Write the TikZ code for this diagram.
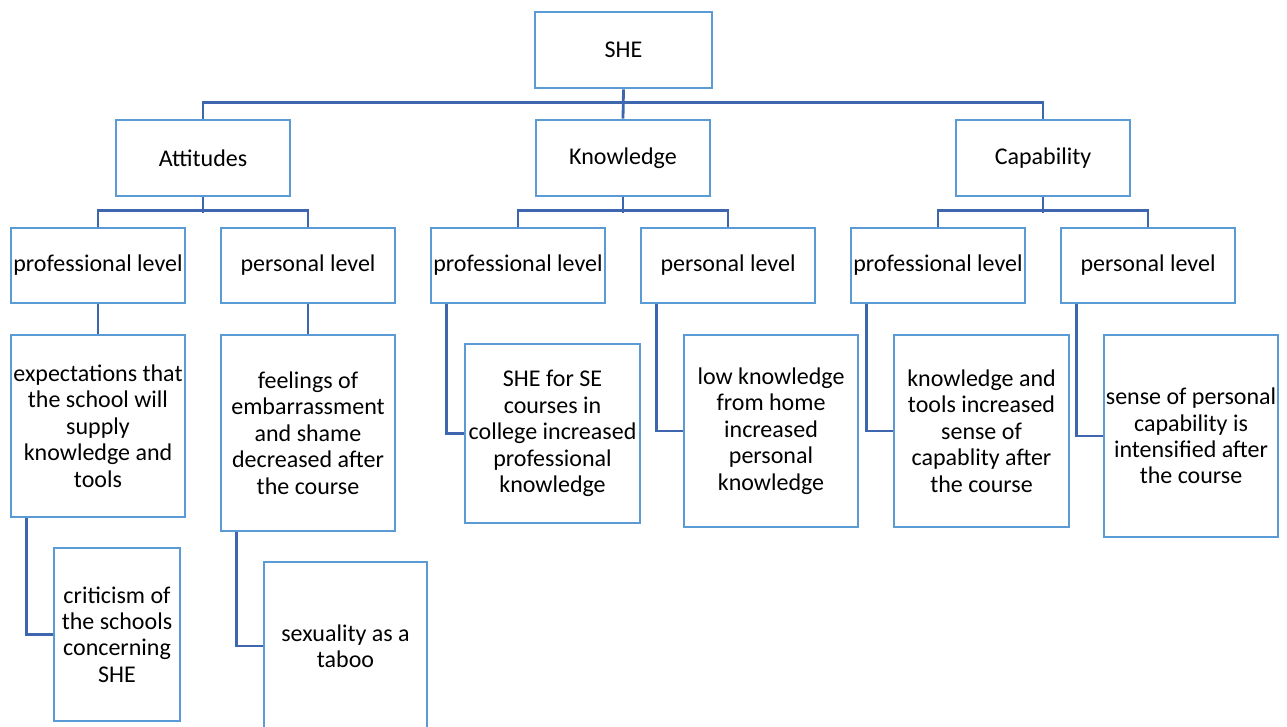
\documentclass[tikz,border=0pt]{standalone}
\usepackage{fontspec}
\setmainfont{Carlito}
\definecolor{boxblue}{HTML}{5B9BD5}
\definecolor{linkblue}{HTML}{3D66AE}
% box by its corners: name, x1, y1, x2, y2, text
\newcommand\boxnode[6]{%
  \node[box, minimum width={(#4-#2)*1pt}, minimum height={(#5-#3)*1pt}]
    (#1) at ({(#2+#4)/2},{(#3+#5)/2}) {#6};}
\begin{document}
\begin{tikzpicture}[x=1pt,y=-1pt,
  box/.style={draw=boxblue, line width=2.8pt, fill=white, align=center,
    inner sep=0pt, text=black, font=\fontsize{24}{26.4}\selectfont},
  oneline/.style={text height=17pt, text depth=5pt},
  link/.style={draw=linkblue, line width=2.8pt}]
\useasboundingbox (0,0) rectangle (1287,726);

% root and first level
\boxnode{she}{535}{12}{712}{88}{SHE}
\boxnode{att}{116}{120}{290}{196}{Attitudes}
\boxnode{know}{536}{120}{710}{196}{Knowledge}
\boxnode{cap}{956}{120}{1130}{196}{Capability}

% second level
\boxnode{attpro}{11}{228}{185}{303}{professional level}
\boxnode{attper}{221}{228}{395}{303}{personal level}
\boxnode{knpro}{431}{228}{605}{303}{professional level}
\boxnode{knper}{641}{228}{815}{303}{personal level}
\boxnode{cappro}{851}{228}{1025}{303}{professional level}
\boxnode{capper}{1061}{228}{1235}{303}{personal level}

% third level
\boxnode{expect}{11}{335}{185}{517}{expectations that\\the school will\\supply\\knowledge and\\tools}
\boxnode{feel}{221}{335}{395}{531}{feelings of\\embarrassment\\and shame\\decreased after\\the course}
\boxnode{knshe}{465}{344}{640}{523}{SHE for SE\\courses in\\college increased\\professional\\knowledge}
\boxnode{knlow}{684}{335}{858}{527}{low knowledge\\from home\\increased\\personal\\knowledge}
\boxnode{captool}{894}{335}{1069}{527}{knowledge and\\tools increased\\sense of\\capablity after\\the course}
\boxnode{capsense}{1104}{335}{1278}{537}{sense of personal\\capability is\\intensified after\\the course}

% fourth level
\boxnode{crit}{54}{548}{180}{721}{criticism of\\the schools\\concerning\\SHE}
\boxnode{taboo}{264}{562}{427}{730}{sexuality as a\\taboo}

% root to first level
\draw[link] (she.south) -- (know.north);
\draw[link] (att.north) -- ++(0,-16) -| (cap.north);

% first to second level
\foreach \p/\a/\b in {att/attpro/attper, know/knpro/knper, cap/cappro/capper}{
  \draw[link] (\p.south) -- ++(0,16);
  \draw[link] (\a.north) -- ++(0,-16) -| (\b.north);
}

% second to third level
\draw[link] (attpro.south) -- (expect.north);
\draw[link] (attper.south) -- (feel.north);
\draw[link] ([xshift=17pt]knpro.south west) |- (knshe.west);
\draw[link] ([xshift=17pt]knper.south west) |- (knlow.west);
\draw[link] ([xshift=17pt]cappro.south west) |- (captool.west);
\draw[link] ([xshift=17pt]capper.south west) |- (capsense.west);

% third to fourth level
\draw[link] ([xshift=17pt]expect.south west) |- (crit.west);
\draw[link] ([xshift=17pt]feel.south west) |- (taboo.west);
\end{tikzpicture}
\end{document}
